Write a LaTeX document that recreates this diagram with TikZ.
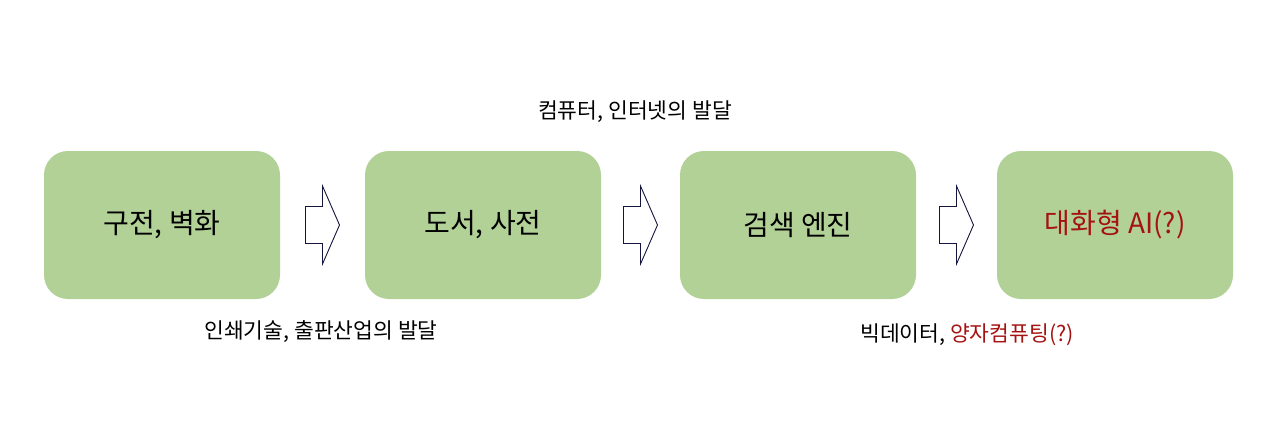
\documentclass[tikz,border=0pt]{standalone}
\usepackage{fontspec}
\setmainfont{Noto Sans CJK KR}
\usepackage{xcolor}
\usetikzlibrary{arrows,calc,positioning}
\definecolor{boxgreen}{RGB}{178,209,151}
\definecolor{darkred}{RGB}{165,18,18}
\definecolor{arrowline}{RGB}{20,20,60}
\tikzset{
	stagebox/.style={fill=boxgreen,draw=none,rounded corners=24pt,minimum width=236pt,minimum height=148pt,font=\fontsize{28}{33}\selectfont},
	notetext/.style={font=\fontsize{21.5}{26}\selectfont},
	blockarrow/.style={draw=arrowline,fill=white,line width=0.9pt,line join=miter}
}
\begin{document}
\begin{tikzpicture}[x=1pt,y=-1pt]
			\useasboundingbox (0,0) rectangle (1280,436);
			% stages
			\node[stagebox] (b1) at (162,225) {구전, 벽화};
			\node[stagebox] (b2) at (483,225) {도서, 사전};
			\node[stagebox] (b3) at (798,225) {검색 엔진};
			\node[stagebox,text=darkred] (b4) at (1115,225) {대화형 AI(?)};
			% notes
			\node[notetext] (n1) at (635,112) {컴퓨터, 인터넷의 발달};
			\node[notetext] (n2) at (321,332) {인쇄기술, 출판산업의 발달};
			\node[notetext] (n3) at (967,335) {빅데이터, \textcolor{darkred}{양자컴퓨팅(?)}};
			% block arrows
			\foreach \a/\b in {b1/b2,b2/b3,b3/b4}{
				\coordinate (m) at ($(\a.east)!0.5!(\b.west)$);
				\begin{scope}[shift={(m)}]
					\draw[blockarrow] (-17,-18.5) -- (0,-18.5) -- (0,-39) -- (17,0) -- (0,39) -- (0,18.5) -- (-17,18.5) -- cycle;
				\end{scope}
			}
\end{tikzpicture}
\end{document}
